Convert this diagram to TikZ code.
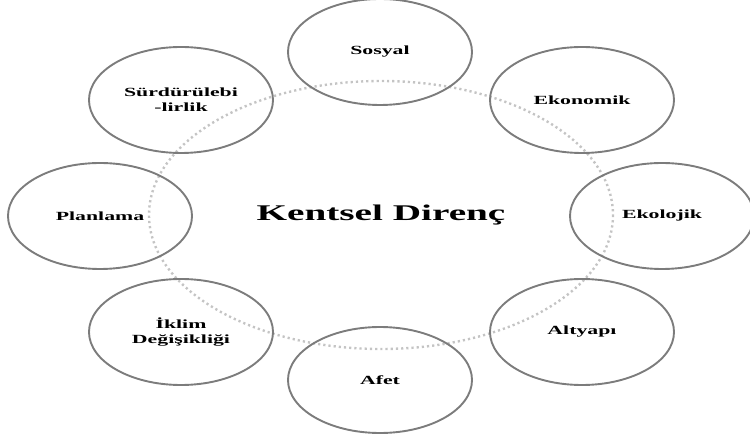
\documentclass[tikz,border=0pt]{standalone}
\usepackage{fontspec}
\newfontfamily\wideserif{Liberation Serif}[FakeStretch=1.75]
\usepackage{tikz}
\usetikzlibrary{shapes.geometric}
\definecolor{rimgray}{HTML}{7C7C7C}
\definecolor{dotgray}{HTML}{C4C4C4}

\begin{document}
\begin{tikzpicture}[x=1bp, y=-1bp, dim/.style={draw=rimgray, line width=1.9bp, ellipse, minimum width=184bp, minimum height=106bp, align=center, font=\wideserif\bfseries\fontsize{12.5}{15}\selectfont, inner sep=0pt}, ring/.style={draw=dotgray, line width=2.4bp, dash pattern=on 2.2bp off 3bp}]
\useasboundingbox (0,0) rectangle (750,441);
\draw[ring] (381,215) ellipse [x radius=232, y radius=134];
\node[font=\wideserif\bfseries\fontsize{22.5}{26}\selectfont] (kd) at (381,215) {Kentsel Direnç};
\node[dim] (sosyal) at (380,52) {Sosyal};
\node[dim] (ekonomik) at (582,100) {Ekonomik};
\node[dim] (ekolojik) at (662,216) {Ekolojik};
\node[dim] (altyapi) at (582,332) {Altyapı};
\node[dim] (afet) at (380,380) {Afet};
\node[dim] (iklim) at (181,332) {İklim\\Değişikliği};
\node[dim] (planlama) at (100,216) {Planlama};
\node[dim] (surdur) at (181,100) {Sürdürülebi\\-lirlik};
\end{tikzpicture}
\end{document}
